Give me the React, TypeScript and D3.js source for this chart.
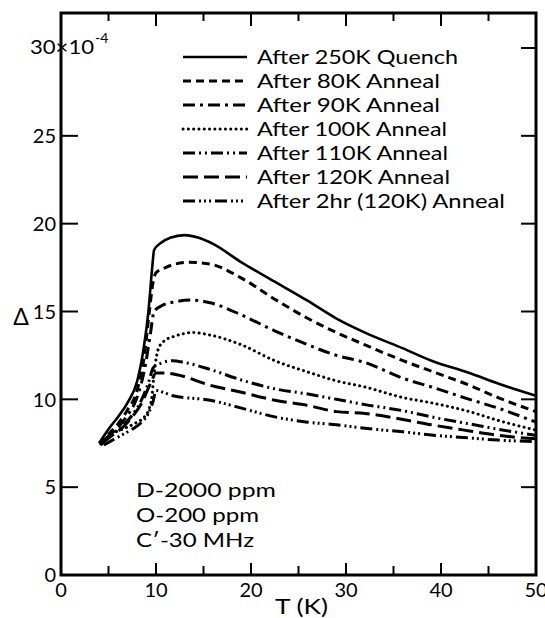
import React from "react";
import * as d3 from "d3";

// ---- data (T in K, Δ in units of 1e-4) ----
const xTicksMajor = [0, 10, 20, 30, 40, 50];
const xTicksMinor = [5, 15, 25, 35, 45];
const yTicks = [0, 5, 10, 15, 20, 25, 30];

const seriesNames = [
  "After 250K Quench",
  "After 80K Anneal",
  "After 90K Anneal",
  "After 100K Anneal",
  "After 110K Anneal",
  "After 120K Anneal",
  "After 2hr (120K) Anneal",
];

const quench250: [number, number][] = [
  [4.0, 7.5], [5, 8.3], [6, 9.0], [7, 9.8], [8, 11.0], [8.7, 12.9], [9.2, 15.0], [9.6, 17.5], [9.8, 18.5],
  [10.5, 18.9], [11.5, 19.2], [13, 19.35], [14.5, 19.2], [16, 18.85], [19, 17.8], [22.5, 16.7], [26, 15.6],
  [29, 14.6], [32, 13.8], [36, 12.9], [39, 12.2], [43, 11.5], [46, 10.9], [50, 10.2],
];
const anneal80: [number, number][] = [
  [4.1, 7.4], [5, 8.0], [6, 8.6], [7, 9.4], [8, 10.5], [8.8, 12.6], [9.3, 15.0], [9.7, 16.7], [10, 17.2],
  [11, 17.5], [12, 17.7], [13.5, 17.8], [15.7, 17.7], [19, 16.9], [22.5, 15.7], [26, 14.6], [29, 13.8],
  [32, 13.1], [36, 12.2], [39, 11.6], [43, 10.8], [46, 10.1], [50, 9.3],
];
const anneal90: [number, number][] = [
  [4.2, 7.4], [5, 7.9], [6, 8.4], [7, 9.1], [8, 10.1], [8.9, 12.0], [9.4, 13.7], [9.8, 15.0], [10.5, 15.3],
  [12, 15.55], [13.8, 15.65], [15.7, 15.5], [19, 14.8], [22.5, 13.9], [26, 13.1], [29, 12.5], [32, 12.1],
  [36, 11.2], [39, 10.7], [43, 10.0], [46, 9.5], [50, 8.7],
];
const anneal100: [number, number][] = [
  [4.6, 7.6], [5.2, 8.0], [6.0, 8.2], [6.9, 8.4], [8.0, 8.7], [8.7, 8.95], [9.3, 9.5], [9.6, 10.3],
  [9.75, 11.2], [9.9, 11.9], [10.2, 12.8], [10.8, 13.3], [12, 13.6], [13.9, 13.8], [15.7, 13.66], [19, 13.1],
  [22.5, 12.2], [26, 11.55], [29, 11.05], [32, 10.7], [36, 10.1], [39, 9.8], [43, 9.3], [46, 8.8], [50, 8.25],
];
const anneal110: [number, number][] = [
  [4.3, 7.6], [5.5, 8.1], [6.5, 8.5], [7.5, 9.1], [8.5, 10.0], [9.3, 11.1], [9.7, 11.8], [10.5, 12.05],
  [11.7, 12.2], [13, 12.1], [15.7, 11.7], [19, 11.1], [22.5, 10.6], [26, 10.3], [29, 10.0], [32, 9.7],
  [36, 9.35], [39, 9.0], [43, 8.6], [46, 8.3], [50, 7.95],
];
const anneal120: [number, number][] = [
  [4.3, 7.5], [5.5, 8.0], [6.5, 8.4], [7.5, 9.0], [8.5, 9.8], [9.5, 11.0], [10, 11.5], [11, 11.5],
  [12.2, 11.4], [15.7, 10.8], [19, 10.4], [22.5, 9.95], [26, 9.65], [29, 9.3], [32, 9.2], [36, 8.85],
  [39, 8.55], [43, 8.2], [46, 7.95], [50, 7.75],
];
const anneal2hr: [number, number][] = [
  [4.5, 7.4], [5.5, 7.7], [6.5, 8.0], [7.5, 8.3], [8.5, 8.7], [9.2, 9.2], [9.7, 9.9], [10.0, 10.5],
  [11, 10.35], [11.8, 10.2], [15.7, 9.95], [19, 9.5], [22.5, 9.0], [26, 8.7], [29, 8.55], [32, 8.35],
  [36, 8.15], [39, 7.97], [43, 7.8], [46, 7.68], [50, 7.6],
];

const seriesData = [quench250, anneal80, anneal90, anneal100, anneal110, anneal120, anneal2hr];
const dashes = ["", "8 5", "12 5 3 5", "0.1 5.2", "12 4 2 4 2 4", "15 6", "12 4 2 3 2 3 2 4"];
const legendWidths = [201, 183, 183, 190, 191, 193, 248];

const notes = ["D-2000 ppm", "O-200 ppm", "C\u2032-30 MHz"];
const noteWidths = [140, 123, 118];

// ---- layout ----
const W = 545;
const H = 618;
const left = 61;
const right = 536;
const top = 13;
const bottom = 575;

const FONT = "Lato, 'Open Sans', 'DejaVu Sans', sans-serif";

export default function App() {
  const x = d3.scaleLinear().domain([0, 50]).range([left, right]);
  const y = d3.scaleLinear().domain([0, 30]).range([bottom, 48]);
  const line = d3
    .line<[number, number]>()
    .x((d) => x(d[0]))
    .y((d) => y(d[1]))
    .curve(d3.curveMonotoneX);

  const legX1 = 183;
  const legX2 = 247;
  const legText = 257;
  const legBase0 = 64;
  const legStep = 24;

  return (
    <svg
      width={W}
      height={H}
      style={{ position: "absolute", left: 0, top: 0, background: "#fff" }}
      fontFamily={FONT}
    >
      <defs>
        <clipPath id="plotclip">
          <rect x={left} y={top} width={right - left} height={bottom - top} />
        </clipPath>
      </defs>
      <rect x={0} y={0} width={W} height={H} fill="#fff" />

      {/* curves */}
      <g clipPath="url(#plotclip)">
        {seriesData.map((s, i) => (
          <path
            key={i}
            d={line(s) || ""}
            fill="none"
            stroke="#000"
            strokeWidth={i === 0 ? 2.6 : 3}
            strokeDasharray={dashes[i] || undefined}
            strokeLinecap={i === 3 ? "round" : "butt"}
          />
        ))}
      </g>

      {/* frame */}
      <rect x={left} y={top} width={right - left} height={bottom - top} fill="none" stroke="#000" strokeWidth={3} />

      {/* x ticks bottom & top */}
      {xTicksMajor.map((t) => (
        <g key={"xm" + t}>
          <line x1={x(t)} x2={x(t)} y1={bottom} y2={bottom - 12} stroke="#000" strokeWidth={2} />
          <line x1={x(t)} x2={x(t)} y1={top} y2={top + 13} stroke="#000" strokeWidth={2} />
          <text x={x(t)} y={597} textAnchor="middle" fontSize={20}>
            {t}
          </text>
        </g>
      ))}
      {xTicksMinor.map((t) => (
        <g key={"xn" + t}>
          <line x1={x(t)} x2={x(t)} y1={bottom} y2={bottom - 9} stroke="#000" strokeWidth={2} />
          <line x1={x(t)} x2={x(t)} y1={top} y2={top + 8} stroke="#000" strokeWidth={2} />
        </g>
      ))}

      {/* y ticks */}
      {yTicks.map((v) => (
        <g key={"y" + v}>
          {v > 0 && v < 30 && (
            <line x1={left} x2={left + 17} y1={y(v)} y2={y(v)} stroke="#000" strokeWidth={2} />
          )}
          {v > 0 && (
            <line x1={right} x2={right - 15} y1={y(v)} y2={y(v)} stroke="#000" strokeWidth={2} />
          )}
          {v < 30 ? (
            <text x={56} y={y(v)} dy="0.36em" textAnchor="end" fontSize={20}>
              {v}
            </text>
          ) : (
            <g>
              <text x={30} y={y(v) + 6} fontSize={20} textLength={64} lengthAdjust="spacingAndGlyphs">
                30×10
              </text>
              <text x={95} y={y(v) - 5} fontSize={14}>
                -4
              </text>
            </g>
          )}
        </g>
      ))}

      {/* axis titles */}
      <text x={275} y={614} fontSize={21} textLength={53} lengthAdjust="spacingAndGlyphs">
        T (K)
      </text>
      <text x={21} y={325} textAnchor="middle" fontSize={23}>
        Δ
      </text>

      {/* legend */}
      {seriesNames.map((n, i) => {
        const by = legBase0 + i * legStep;
        return (
          <g key={"leg" + i}>
            <line
              x1={legX1}
              x2={legX2}
              y1={by - 7}
              y2={by - 7}
              stroke="#000"
              strokeWidth={i === 0 ? 2.6 : 3}
              strokeDasharray={dashes[i] || undefined}
              strokeLinecap={i === 3 ? "round" : "butt"}
            />
            <text x={legText} y={by} fontSize={20} textLength={legendWidths[i]} lengthAdjust="spacingAndGlyphs">
              {n}
            </text>
          </g>
        );
      })}

      {/* notes */}
      {notes.map((n, i) => (
        <text
          key={"n" + i}
          x={136}
          y={497 + i * 25}
          fontSize={20}
          textLength={noteWidths[i]}
          lengthAdjust="spacingAndGlyphs"
        >
          {n}
        </text>
      ))}
    </svg>
  );
}
